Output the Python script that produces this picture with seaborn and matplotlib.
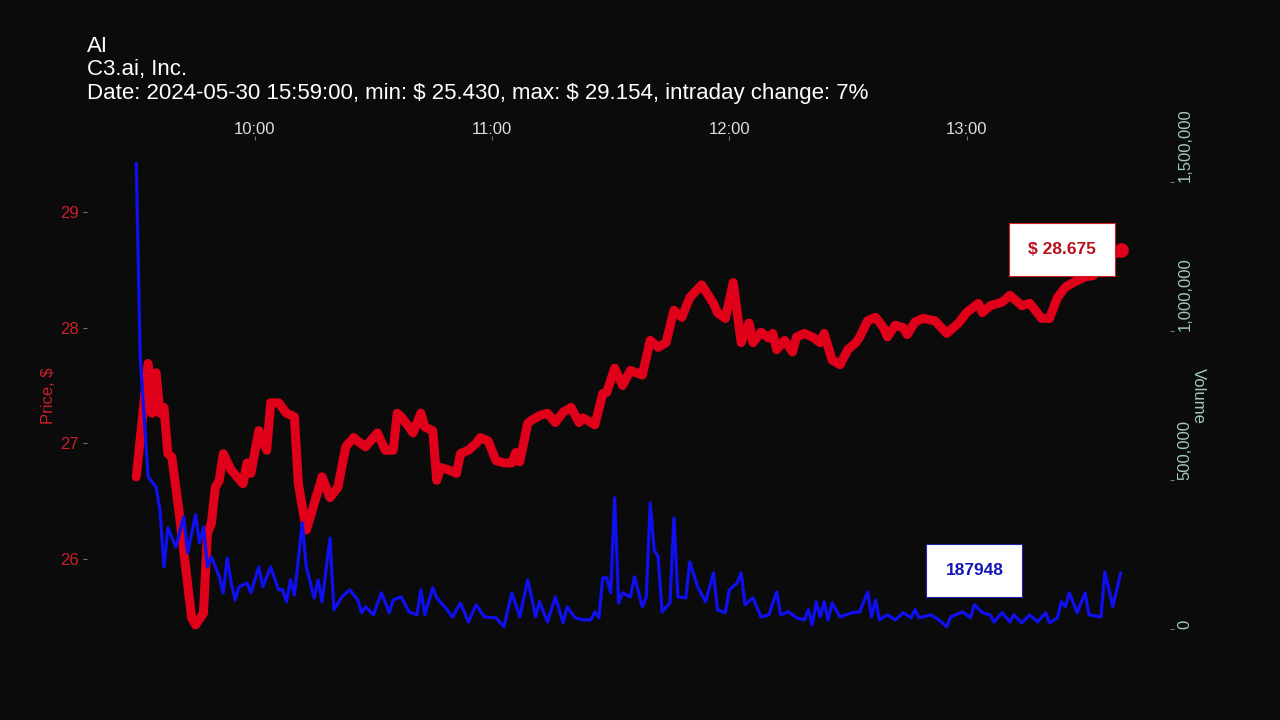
import matplotlib
matplotlib.use("Agg")
import matplotlib.pyplot as plt
import matplotlib.dates as mdates
from matplotlib.ticker import FuncFormatter
import seaborn as sns
import pandas as pd

tradeDate = "2024-05-30"

priceTimes = ["09:30", "09:33", "09:34", "09:35", "09:36", "09:37", "09:38", "09:39", "09:41", "09:42",
              "09:44", "09:45", "09:47", "09:48", "09:49", "09:50", "09:51", "09:52", "09:54", "09:57",
              "09:58", "09:59", "10:01", "10:03", "10:04", "10:06", "10:08", "10:10", "10:11", "10:13",
              "10:14", "10:17", "10:19", "10:21", "10:23", "10:25", "10:26", "10:28", "10:30", "10:31",
              "10:33", "10:35", "10:36", "10:37", "10:39", "10:40", "10:42", "10:43", "10:45", "10:46",
              "10:47", "10:49", "10:51", "10:52", "10:54", "10:56", "10:57", "10:59", "11:01", "11:03",
              "11:05", "11:06", "11:07", "11:09", "11:10", "11:12", "11:14", "11:16", "11:18", "11:20",
              "11:22", "11:23", "11:26", "11:28", "11:29", "11:31", "11:33", "11:35", "11:38", "11:40",
              "11:42", "11:44", "11:46", "11:48", "11:50", "11:53", "11:56", "11:57", "11:59", "12:01",
              "12:03", "12:05", "12:06", "12:08", "12:10", "12:11", "12:12", "12:14", "12:16", "12:17",
              "12:19", "12:21", "12:23", "12:24", "12:26", "12:28", "12:30", "12:32", "12:33", "12:35",
              "12:37", "12:39", "12:40", "12:42", "12:44", "12:45", "12:47", "12:49", "12:52", "12:55",
              "12:58", "13:00", "13:03", "13:04", "13:06", "13:09", "13:11", "13:14", "13:16", "13:19",
              "13:21", "13:23", "13:25", "13:27", "13:30", "13:32", "13:35", "13:36", "13:39"]

prices = [26.71, 27.69, 27.26, 27.61, 27.26, 27.31, 26.91, 26.88, 26.36, 26.07,
          25.49, 25.43, 25.53, 26.22, 26.31, 26.62, 26.68, 26.91, 26.77, 26.65,
          26.83, 26.74, 27.11, 26.94, 27.35, 27.35, 27.26, 27.23, 26.65, 26.25,
          26.36, 26.71, 26.53, 26.62, 26.97, 27.05, 27.02, 26.97, 27.05, 27.09,
          26.94, 26.94, 27.26, 27.23, 27.14, 27.09, 27.26, 27.14, 27.11, 26.68,
          26.79, 26.77, 26.74, 26.91, 26.94, 27.00, 27.05, 27.02, 26.85, 26.83,
          26.83, 26.92, 26.84, 27.17, 27.20, 27.24, 27.26, 27.18, 27.27, 27.31,
          27.18, 27.22, 27.16, 27.43, 27.44, 27.65, 27.50, 27.63, 27.59, 27.89,
          27.83, 27.87, 28.15, 28.09, 28.26, 28.37, 28.21, 28.13, 28.08, 28.39,
          27.87, 28.04, 27.87, 27.96, 27.91, 27.95, 27.81, 27.89, 27.79, 27.92,
          27.95, 27.92, 27.87, 27.95, 27.72, 27.68, 27.81, 27.87, 27.92, 28.06,
          28.09, 28.00, 27.92, 28.02, 28.00, 27.94, 28.05, 28.08, 28.06, 27.95,
          28.04, 28.13, 28.21, 28.13, 28.19, 28.22, 28.28, 28.19, 28.21, 28.08,
          28.08, 28.26, 28.35, 28.39, 28.44, 28.45, 28.55, 28.60, 28.675]

volumeTimes = ["09:30", "09:31", "09:33", "09:35", "09:36", "09:37", "09:38", "09:40", "09:42", "09:43",
               "09:45", "09:46", "09:47", "09:48", "09:49", "09:51", "09:52", "09:53", "09:54", "09:55",
               "09:56", "09:58", "09:59", "10:01", "10:02", "10:04", "10:06", "10:07", "10:08", "10:09",
               "10:10", "10:12", "10:13", "10:15", "10:16", "10:17", "10:19", "10:20", "10:22", "10:24",
               "10:26", "10:27", "10:28", "10:30", "10:32", "10:34", "10:35", "10:37", "10:39", "10:41",
               "10:42", "10:43", "10:45", "10:46", "10:48", "10:50", "10:52", "10:54", "10:56", "10:58",
               "11:01", "11:03", "11:05", "11:07", "11:09", "11:10", "11:11", "11:12", "11:14", "11:16",
               "11:18", "11:19", "11:21", "11:23", "11:25", "11:26", "11:27", "11:28", "11:29", "11:30",
               "11:31", "11:32", "11:33", "11:35", "11:36", "11:38", "11:39", "11:40", "11:41", "11:42",
               "11:43", "11:45", "11:46", "11:47", "11:49", "11:50", "11:52", "11:54", "11:56", "11:57",
               "11:59", "12:00", "12:02", "12:03", "12:04", "12:06", "12:08", "12:10", "12:12", "12:13",
               "12:15", "12:17", "12:19", "12:20", "12:21", "12:22", "12:23", "12:24", "12:25", "12:26",
               "12:28", "12:31", "12:33", "12:35", "12:36", "12:37", "12:38", "12:40", "12:42", "12:44",
               "12:46", "12:47", "12:48", "12:51", "12:53", "12:55", "12:56", "12:59", "13:01", "13:02",
               "13:04", "13:06", "13:07", "13:09", "13:11", "13:12", "13:14", "13:16", "13:18", "13:20",
               "13:21", "13:23", "13:24", "13:25", "13:26", "13:28", "13:30", "13:31", "13:34", "13:35",
               "13:37", "13:39"]

volumes = [1564000, 913000, 510000, 476000, 400000, 208000, 339000, 275000, 376000, 255000,
           383000, 289000, 342000, 208000, 242000, 175000, 121000, 238000, 154000, 97000,
           141000, 154000, 121000, 208000, 141000, 208000, 131000, 131000, 91000, 164000,
           114000, 356000, 208000, 104000, 164000, 91000, 305000, 64000, 107000, 131000,
           97000, 54000, 74000, 47000, 121000, 54000, 97000, 107000, 57000, 47000,
           131000, 47000, 138000, 104000, 74000, 40000, 87000, 23000, 81000, 40000,
           37000, 7000, 121000, 40000, 164000, 107000, 40000, 91000, 23000, 107000,
           20000, 74000, 37000, 30000, 30000, 57000, 37000, 171000, 171000, 121000,
           440000, 87000, 121000, 107000, 175000, 74000, 107000, 423000, 265000, 242000,
           57000, 87000, 372000, 107000, 104000, 225000, 141000, 91000, 188000, 64000,
           54000, 131000, 154000, 188000, 81000, 104000, 40000, 47000, 124000, 47000,
           57000, 37000, 30000, 64000, 13000, 91000, 40000, 91000, 30000, 87000,
           40000, 54000, 57000, 124000, 40000, 97000, 30000, 47000, 30000, 54000,
           37000, 64000, 37000, 47000, 30000, 7000, 40000, 57000, 37000, 81000,
           54000, 47000, 23000, 54000, 23000, 47000, 20000, 47000, 23000, 54000,
           20000, 37000, 91000, 74000, 121000, 54000, 121000, 47000, 40000, 191000,
           74000, 187948]

ticker = "AI"
company = "C3.ai, Inc."
infoLine = "Date: 2024-05-30 15:59:00, min: $ 25.430, max: $ 29.154, intraday change: 7%"

bg = "#0b0b0b"
redLine = "#e1001a"
blueLine = "#0f0ff0"
redText = "#c9202a"
blueText = "#1515b5"
volText = "#a3c6c6"

sns.set_theme(style="dark", rc={"axes.facecolor": bg, "figure.facecolor": bg, "axes.grid": False})
plt.rcParams["font.family"] = ["Liberation Sans", "DejaVu Sans"]

priceDf = pd.DataFrame({"time": pd.to_datetime([tradeDate + " " + t for t in priceTimes]), "price": prices})
volumeDf = pd.DataFrame({"time": pd.to_datetime([tradeDate + " " + t for t in volumeTimes]), "volume": volumes})

fig = plt.figure(figsize=(12.8, 7.2), dpi=100)
ax1 = fig.add_axes([0.068, 0.0944, 0.846, 0.7112])
sns.lineplot(data=priceDf, x="time", y="price", ax=ax1, color=redLine, linewidth=6.5)
lastPrice = priceDf.iloc[-1]
ax1.plot([lastPrice["time"]], [lastPrice["price"]], "o", color=redLine, markersize=9.5)

ax2 = ax1.twinx()
sns.lineplot(data=volumeDf, x="time", y="volume", ax=ax2, color=blueLine, linewidth=2.3)
lastVol = volumeDf.iloc[-1]

ax1.set_ylim(25.195, 29.623)
ax2.set_ylim(-78000, 1642000)

for a in (ax1, ax2):
    for s in a.spines.values():
        s.set_visible(False)

ax1.xaxis.tick_top()
ax1.xaxis.set_major_locator(mdates.HourLocator())
ax1.xaxis.set_major_formatter(mdates.DateFormatter("%H:%M"))
ax1.tick_params(axis="x", colors="#dddddd", labelsize=12, length=3, width=0.8, pad=-1)
ax1.tick_params(axis="x", color="#777777")
ax1.set_xlabel("")

ax1.set_yticks([26, 27, 28, 29])
ax1.tick_params(axis="y", labelcolor=redText, labelsize=12, length=3, width=0.8, color="#777777", pad=3)
ax1.set_ylabel("Price, $", color=redText, fontsize=12, labelpad=3)

ax2.set_yticks([0, 500000, 1000000, 1500000])
ax2.yaxis.set_major_formatter(FuncFormatter(lambda v, p: f"{v:,.0f}"))
ax2.tick_params(axis="y", labelcolor=volText, labelsize=12, length=3, width=0.8, color="#777777", pad=2.5, labelrotation=90)
for lbl in ax2.get_yticklabels():
    lbl.set_va("bottom")
ax2.set_ylabel("Volume", color=volText, fontsize=12, rotation=270, va="bottom", labelpad=-1)

ax1.annotate(f"$ {lastPrice['price']:.3f}", xy=(lastPrice["time"], lastPrice["price"]),
             xytext=(-42.3, 0), textcoords="offset points", ha="center", va="center",
             fontsize=12.5, fontweight="bold", color="#b8101c", parse_math=False,
             bbox=dict(boxstyle="square,pad=1.1", fc="white", ec="#cc2222", lw=0.8))
ax2.annotate(f"{lastVol['volume']}", xy=(lastVol["time"], lastVol["volume"]),
             xytext=(-105.3, 1.8), textcoords="offset points", ha="center", va="center",
             fontsize=12.5, fontweight="bold", color=blueText,
             bbox=dict(boxstyle="square,pad=1.1", fc="white", ec="#2222aa", lw=0.8))

fig.text(87 / 1280, 1 - 52 / 720, ticker, color="white", fontsize=16, va="baseline")
fig.text(87 / 1280, 1 - 75.5 / 720, company, color="white", fontsize=16, va="baseline")
fig.text(87 / 1280, 1 - 99.5 / 720, infoLine, color="white", fontsize=16, va="baseline", parse_math=False)

fig.savefig("out.png", dpi=100, facecolor=bg)
